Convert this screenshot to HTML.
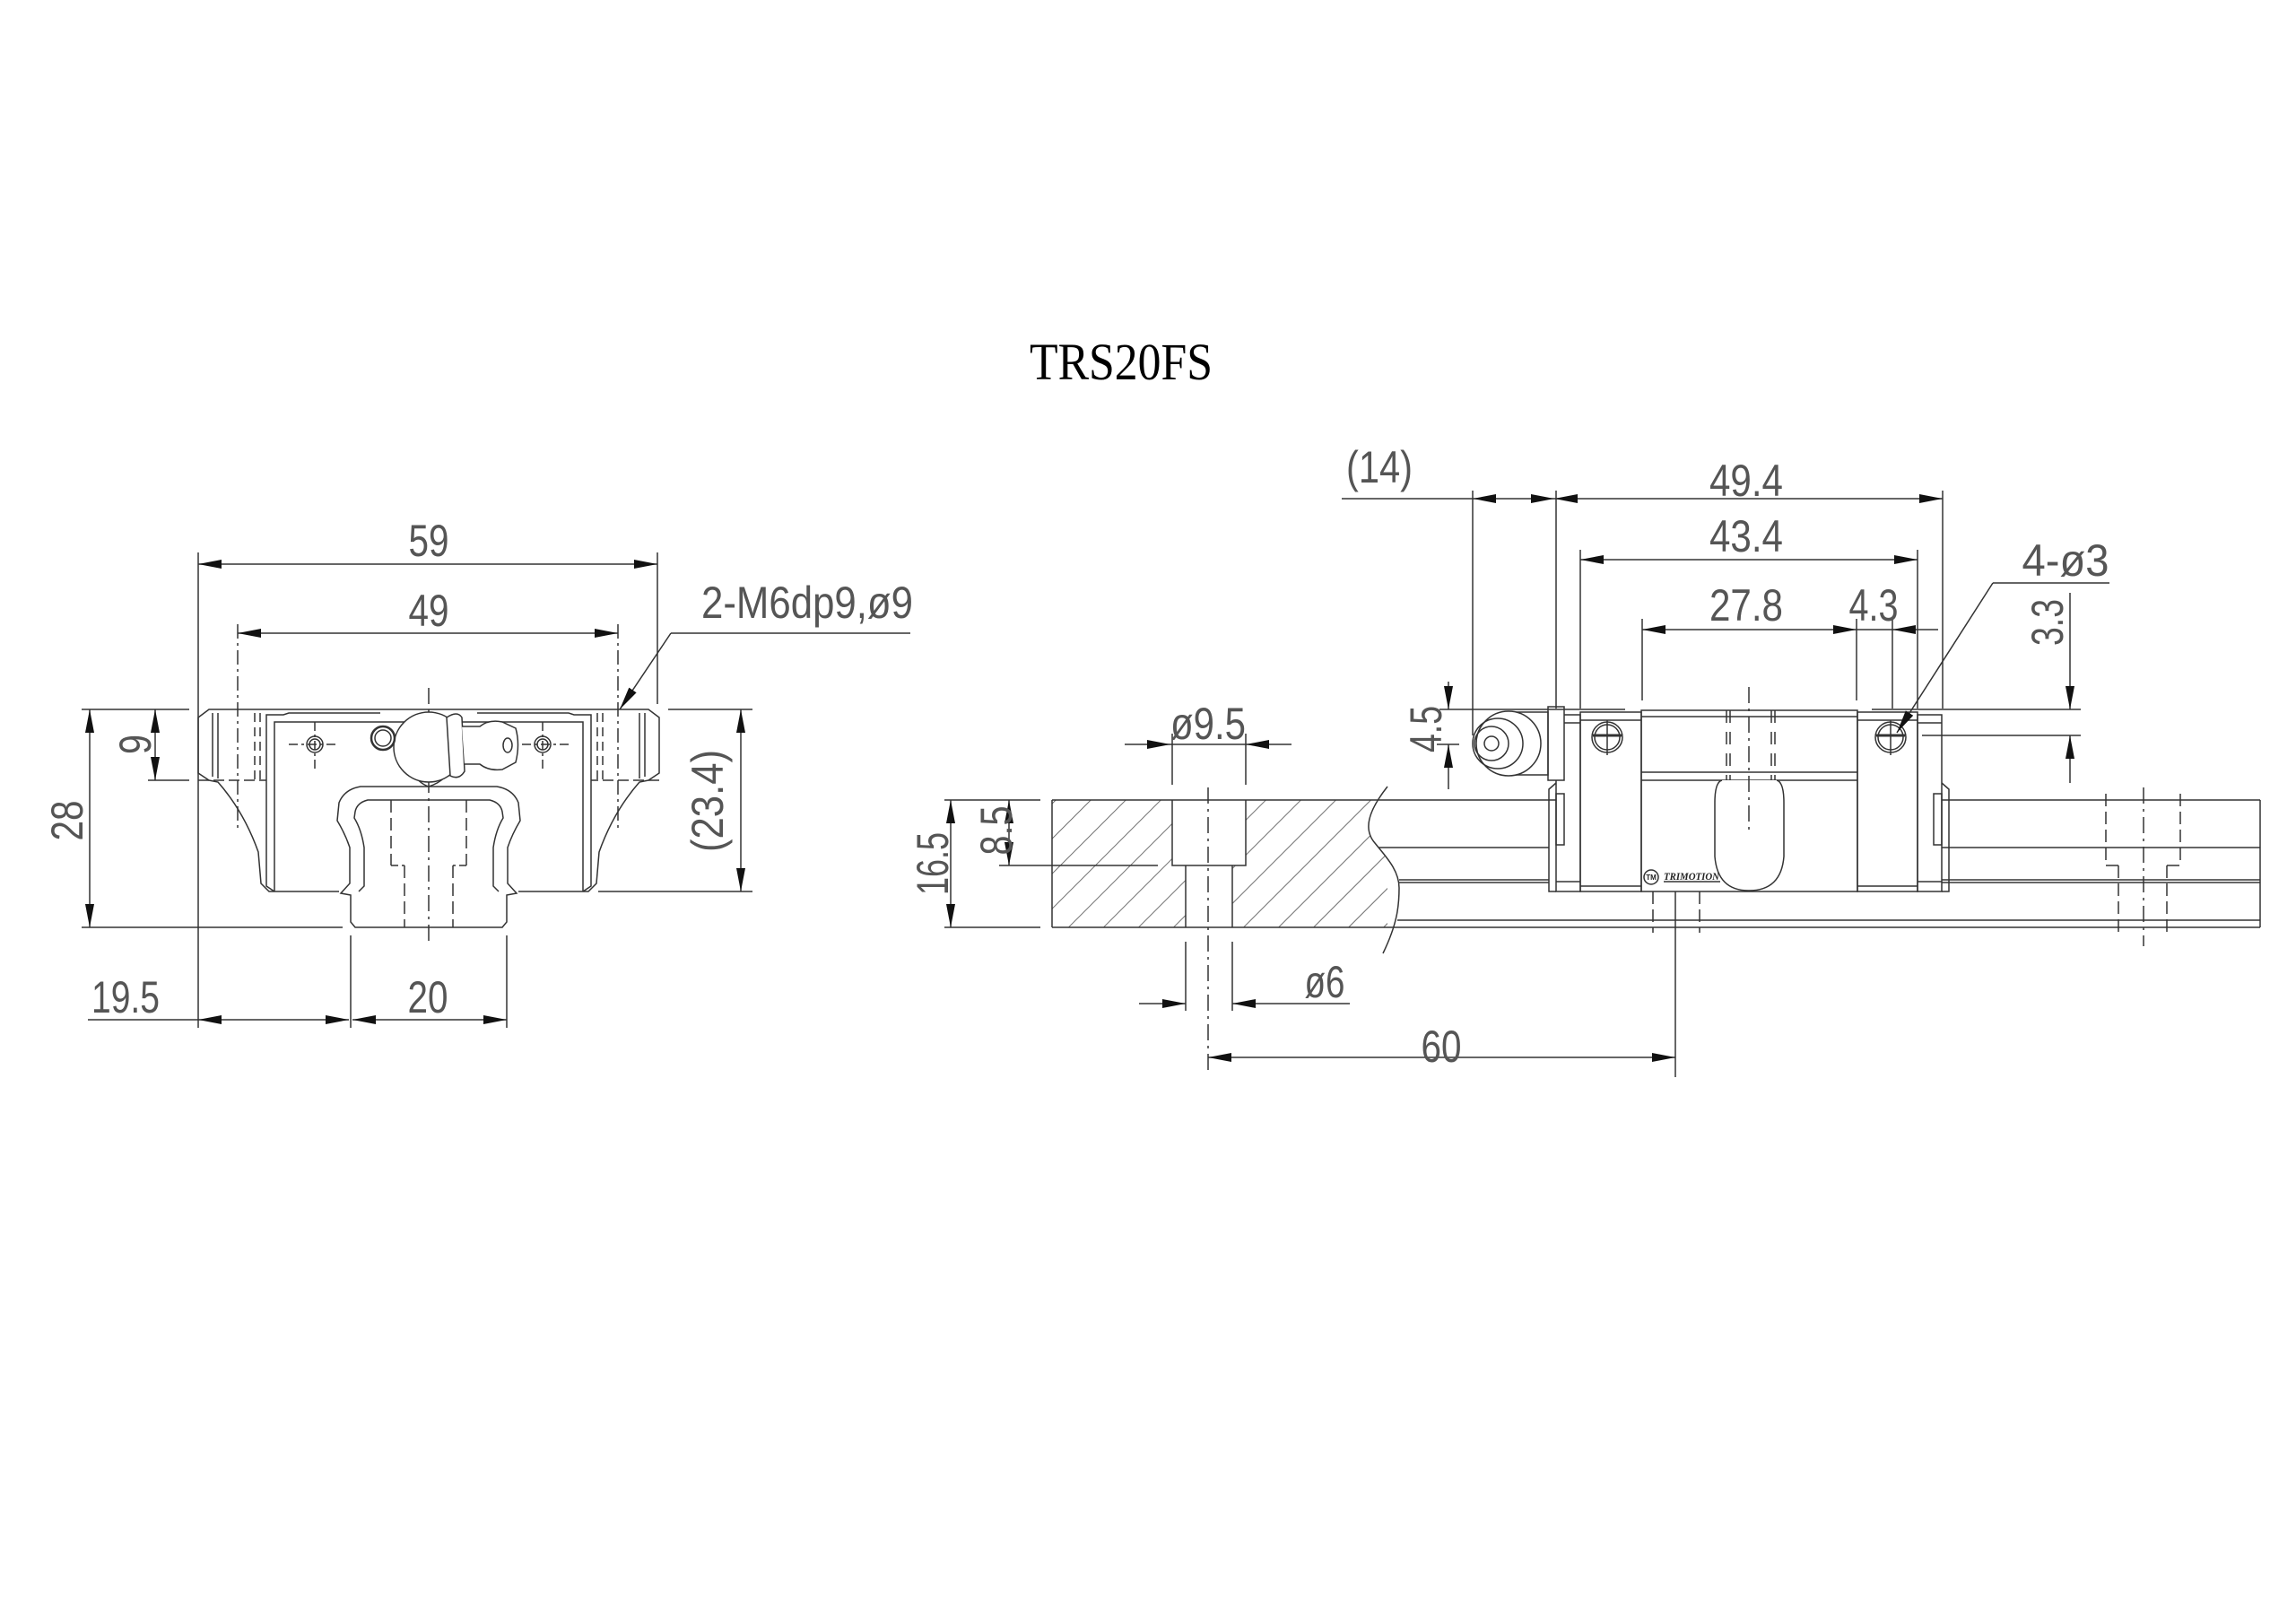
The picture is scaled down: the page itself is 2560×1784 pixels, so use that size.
<!DOCTYPE html>
<html><head><meta charset="utf-8"><style>
html,body{margin:0;padding:0;background:#fff}
svg{display:block}
text{font-family:"Liberation Sans",sans-serif;fill:#555}
</style></head><body>
<svg width="2560" height="1784" viewBox="0 0 2560 1784" xmlns="http://www.w3.org/2000/svg">
<defs>
<marker id="ar" viewBox="0 -5 26 10" refX="26" refY="0" markerWidth="26" markerHeight="10" markerUnits="userSpaceOnUse" orient="auto-start-reverse"><path d="M0,-5L26,0L0,5z" fill="#111"/></marker>
<pattern id="hat" width="27.6" height="27.6" patternUnits="userSpaceOnUse" patternTransform="rotate(45)"><line x1="0" y1="0" x2="0" y2="27.6" stroke="#333" stroke-width="1.4"/></pattern>
<clipPath id="hc"><path d="M1173,892 L1547,877 C1525,905 1520,925 1533,940 C1545,955 1560,970 1560,990 C1560,1010 1558,1025 1552,1034 L1173,1034 Z"/></clipPath>
</defs>

<text x="1250" y="423" font-family="Liberation Serif" style="font-family:'Liberation Serif',serif;fill:#000" font-size="58" textLength="204" lengthAdjust="spacingAndGlyphs" text-anchor="middle">TRS20FS</text>

<g stroke="#333" stroke-width="1.5" fill="none">
<!-- ===== LEFT VIEW ===== -->
<!-- dimension lines -->
<line x1="221" y1="629" x2="733" y2="629" marker-start="url(#ar)" marker-end="url(#ar)"/>
<line x1="221" y1="616" x2="221" y2="1146"/>
<line x1="733" y1="616" x2="733" y2="785"/>
<line x1="265" y1="706" x2="689" y2="706" marker-start="url(#ar)" marker-end="url(#ar)"/>
<line x1="265" y1="696" x2="265" y2="926" stroke-dasharray="16,5,3,5"/>
<line x1="689" y1="696" x2="689" y2="926" stroke-dasharray="16,5,3,5"/>
<!-- leader -->
<line x1="1015" y1="706" x2="748" y2="706"/>
<line x1="748" y1="706" x2="691" y2="791" marker-end="url(#ar)"/>
<!-- 28 -->
<line x1="100" y1="791" x2="100" y2="1034" marker-start="url(#ar)" marker-end="url(#ar)"/>
<line x1="91" y1="791" x2="211" y2="791"/>
<line x1="91" y1="1034" x2="382" y2="1034"/>
<!-- 9 -->
<line x1="173" y1="791" x2="173" y2="870" marker-start="url(#ar)" marker-end="url(#ar)"/>
<line x1="165" y1="870" x2="211" y2="870"/>
<!-- 23.4 -->
<line x1="826" y1="791" x2="826" y2="994" marker-start="url(#ar)" marker-end="url(#ar)"/>
<line x1="745" y1="791" x2="839" y2="791"/>
<line x1="667" y1="994" x2="839" y2="994"/>
<!-- 19.5 / 20 -->
<line x1="98" y1="1137" x2="221" y2="1137"/>
<line x1="221" y1="1137" x2="389" y2="1137" marker-start="url(#ar)" marker-end="url(#ar)"/>
<line x1="393" y1="1137" x2="565" y2="1137" marker-start="url(#ar)" marker-end="url(#ar)"/>
<line x1="391" y1="1043" x2="391" y2="1146"/>
<line x1="565" y1="1043" x2="565" y2="1146"/>

<!-- block left half + mirror -->
<g id="half">
<path d="M478,791 L233,791 L221,800 L221,862 L233,870 L243,872 Q272,905 288,950 L291,985 L300,994 L378,994"/>
<path d="M424,795 L322,795 L316,797 L297,797 L297,988 L306,994"/>
<path d="M478,805 L306,805 L306,994"/>
<line x1="237" y1="795" x2="237" y2="866"/>
<line x1="243" y1="795" x2="243" y2="868"/>
<line x1="284" y1="795" x2="284" y2="870" stroke-dasharray="10,6"/>
<line x1="290" y1="795" x2="290" y2="870" stroke-dasharray="10,6"/>
<line x1="221" y1="870" x2="297" y2="870" stroke-dasharray="12,5"/>
<!-- rail -->
<path d="M478,877 L402,877 Q384,880 378,895 L376,915 Q385,930 390,945 L390,985 L380,996 L391,998 L391,1028 L396,1034 L478,1034"/>
<path d="M478,892 L410,892 Q398,895 396,905 L395,912 Q403,925 406,945 L406,988 L400,994"/>
<line x1="436" y1="892" x2="436" y2="965" stroke-dasharray="14,6"/>
<line x1="436" y1="965" x2="451" y2="965" stroke-dasharray="8,4"/>
<line x1="451" y1="965" x2="451" y2="1034" stroke-dasharray="14,6"/>
<!-- hole -->
<circle cx="351" cy="830" r="9"/>
<circle cx="351" cy="830" r="6"/>
<line x1="322" y1="830" x2="378" y2="830" stroke-dasharray="10,4,3,4"/>
<line x1="351" y1="805" x2="351" y2="858" stroke-dasharray="10,4,3,4"/>
</g>
<use href="#half" transform="translate(956,0) scale(-1,1)"/>
<line x1="478" y1="767" x2="478" y2="1051" stroke-dasharray="18,6,3,6"/>
<!-- grease nipple left view -->
<path d="M445,818 Q455,870 478,877 Q500,870 505,850" />
<circle cx="478" cy="833" r="39" fill="#fff"/>
<circle cx="427" cy="823" r="13" stroke-width="2.5"/>
<circle cx="427" cy="823" r="9"/>
<path d="M498,800 Q510,792 515,800 L518,860 Q512,870 502,865 Z" fill="#fff"/>
<path d="M515,810 L535,810 Q545,802 560,805 L575,812 Q580,830 575,850 L560,858 Q545,860 535,852 L518,852" fill="#fff"/>
<ellipse cx="566" cy="831" rx="5" ry="8"/>

<!-- ===== RIGHT VIEW ===== -->
<!-- rail -->
<rect x="1173" y="892" width="374" height="142" fill="url(#hat)" stroke="none" clip-path="url(#hc)"/>
<rect x="1307" y="890" width="82" height="75" fill="#fff" stroke="none"/>
<rect x="1322" y="964" width="52" height="72" fill="#fff" stroke="none"/>
<line x1="1173" y1="892" x2="1173" y2="1034"/>
<line x1="1173" y1="892" x2="1735" y2="892"/>
<line x1="2165" y1="892" x2="2520" y2="892"/>
<line x1="1173" y1="1034" x2="2520" y2="1034"/>
<line x1="2520" y1="892" x2="2520" y2="1034"/>
<line x1="1537" y1="945" x2="1727" y2="945"/>
<line x1="2165" y1="945" x2="2520" y2="945"/>
<line x1="1560" y1="981" x2="1727" y2="981"/>
<line x1="1560" y1="984" x2="1727" y2="984"/>
<line x1="2165" y1="981" x2="2520" y2="981"/>
<line x1="2165" y1="984" x2="2520" y2="984"/>
<line x1="1558" y1="1026" x2="2520" y2="1026"/>
<path d="M1547,877 C1525,905 1520,925 1533,940 C1545,955 1560,970 1560,990 C1560,1010 1558,1030 1542,1063"/>
<!-- hole in section -->
<path d="M1307,892 L1307,965 L1389,965 L1389,892"/>
<line x1="1322" y1="965" x2="1322" y2="1034"/>
<line x1="1374" y1="965" x2="1374" y2="1034"/>
<line x1="1347" y1="878" x2="1347" y2="1196" stroke-dasharray="18,6,3,6"/>
<!-- hidden hole right -->
<g stroke-dasharray="14,6">
<line x1="2348" y1="885" x2="2348" y2="965"/>
<line x1="2431" y1="885" x2="2431" y2="965"/>
<line x1="2362" y1="965" x2="2362" y2="1045"/>
<line x1="2416" y1="965" x2="2416" y2="1045"/>
<line x1="2348" y1="965" x2="2362" y2="965"/>
<line x1="2416" y1="965" x2="2431" y2="965"/>
<line x1="1843" y1="994" x2="1843" y2="1040"/>
<line x1="1895" y1="994" x2="1895" y2="1040"/>
</g>
<line x1="2390" y1="878" x2="2390" y2="1055" stroke-dasharray="18,6,3,6"/>

<!-- block -->
<rect x="1830" y="792" width="241" height="202" fill="#fff"/>
<line x1="1830" y1="799" x2="2071" y2="799"/>
<line x1="1830" y1="861" x2="2071" y2="861"/>
<line x1="1830" y1="870" x2="2071" y2="870"/>
<rect x="1762" y="794" width="68" height="200"/>
<rect x="2071" y="794" width="67" height="200"/>
<line x1="1762" y1="803" x2="1830" y2="803"/>
<line x1="2071" y1="803" x2="2138" y2="803"/>
<line x1="1762" y1="988" x2="1830" y2="988"/>
<line x1="2071" y1="988" x2="2138" y2="988"/>
<rect x="1735" y="797" width="27" height="197"/>
<rect x="2138" y="797" width="27" height="197"/>
<line x1="1735" y1="806" x2="1762" y2="806"/>
<line x1="2138" y1="806" x2="2165" y2="806"/>
<line x1="1735" y1="983" x2="1762" y2="983"/>
<line x1="2138" y1="983" x2="2165" y2="983"/>
<path d="M1735,873 L1727,880 L1727,994 L1735,994"/>
<path d="M2165,873 L2173,880 L2173,994 L2165,994"/>
<rect x="1735" y="885" width="9" height="57"/>
<rect x="2156" y="885" width="9" height="57"/>
<rect x="1726" y="788" width="18" height="82" fill="#fff"/>
<line x1="1925" y1="792" x2="1925" y2="870" stroke-dasharray="14,10"/>
<line x1="1929" y1="792" x2="1929" y2="870" stroke-dasharray="14,10"/>
<line x1="1975" y1="792" x2="1975" y2="870" stroke-dasharray="14,10"/>
<line x1="1979" y1="792" x2="1979" y2="870" stroke-dasharray="14,10"/>
<path d="M1920,870 Q1912,872 1912,895 L1912,955 Q1915,993 1950,993 Q1986,993 1989,955 L1989,895 Q1989,872 1981,870" fill="#fff"/>
<line x1="1950" y1="766" x2="1950" y2="925" stroke-dasharray="18,6,3,6"/>
<!-- nipple -->
<path d="M1680,794 L1726,794 L1726,864 L1680,864"/>
<circle cx="1682" cy="829" r="36" fill="#fff"/>
<circle cx="1670" cy="829" r="28"/>
<circle cx="1663" cy="829" r="19"/>
<circle cx="1663" cy="829" r="8"/>
<!-- screws -->
<g id="scr">
<circle cx="1792" cy="822" r="17" fill="#fff"/>
<circle cx="1792" cy="822" r="14"/>
<line x1="1776" y1="820" x2="1808" y2="820" stroke-width="3"/>
<line x1="1792" y1="803" x2="1792" y2="842"/>
</g>
<use href="#scr" transform="translate(316,0)"/>
<circle cx="1841" cy="978" r="8"/>
<line x1="1855" y1="983" x2="1918" y2="983"/>
<line x1="1868" y1="994" x2="1868" y2="1201"/>

<!-- right view dims -->
<line x1="1496" y1="556" x2="1642" y2="556"/>
<line x1="1642" y1="556" x2="1733" y2="556" marker-start="url(#ar)" marker-end="url(#ar)"/>
<line x1="1733" y1="556" x2="2166" y2="556" marker-start="url(#ar)" marker-end="url(#ar)"/>
<line x1="1642" y1="547" x2="1642" y2="820"/>
<line x1="1735" y1="547" x2="1735" y2="790"/>
<line x1="2166" y1="547" x2="2166" y2="790"/>
<line x1="1762" y1="613" x2="1762" y2="790"/>
<line x1="2138" y1="613" x2="2138" y2="790"/>
<line x1="1762" y1="624" x2="2138" y2="624" marker-start="url(#ar)" marker-end="url(#ar)"/>
<line x1="1831" y1="690" x2="1831" y2="781"/>
<line x1="2070" y1="690" x2="2070" y2="781"/>
<line x1="2110" y1="690" x2="2110" y2="790"/>
<line x1="1831" y1="702" x2="2070" y2="702" marker-start="url(#ar)" marker-end="url(#ar)"/>
<line x1="2070" y1="702" x2="2110" y2="702"/>
<line x1="2161" y1="702" x2="2110" y2="702" marker-end="url(#ar)"/>
<!-- 4-ø3 leader -->
<line x1="2352" y1="650" x2="2222" y2="650"/>
<line x1="2222" y1="650" x2="2115" y2="817" marker-end="url(#ar)"/>
<!-- 3.3 -->
<line x1="2308" y1="661" x2="2308" y2="791" marker-end="url(#ar)"/>
<line x1="2308" y1="873" x2="2308" y2="820" marker-end="url(#ar)"/>
<line x1="2087" y1="791" x2="2320" y2="791"/>
<line x1="1605" y1="791" x2="1812" y2="791"/>
<line x1="2143" y1="820" x2="2320" y2="820"/>
<!-- 4.5 -->
<line x1="1615" y1="760" x2="1615" y2="791" marker-end="url(#ar)"/>
<line x1="1615" y1="880" x2="1615" y2="830" marker-end="url(#ar)"/>
<line x1="1602" y1="830" x2="1627" y2="830"/>
<!-- ø9.5 -->
<line x1="1254" y1="830" x2="1305" y2="830" marker-end="url(#ar)"/>
<line x1="1440" y1="830" x2="1389" y2="830" marker-end="url(#ar)"/>
<line x1="1305" y1="830" x2="1389" y2="830"/>
<line x1="1307" y1="818" x2="1307" y2="875"/>
<line x1="1389" y1="818" x2="1389" y2="875"/>
<!-- 16.5 / 8.5 -->
<line x1="1060" y1="892" x2="1060" y2="1034" marker-start="url(#ar)" marker-end="url(#ar)"/>
<line x1="1053" y1="892" x2="1160" y2="892"/>
<line x1="1053" y1="1034" x2="1160" y2="1034"/>
<line x1="1125" y1="892" x2="1125" y2="965" marker-start="url(#ar)" marker-end="url(#ar)"/>
<line x1="1114" y1="965" x2="1291" y2="965"/>
<!-- ø6 -->
<line x1="1270" y1="1119" x2="1322" y2="1119" marker-end="url(#ar)"/>
<line x1="1505" y1="1119" x2="1374" y2="1119" marker-end="url(#ar)"/>
<line x1="1322" y1="1050" x2="1322" y2="1127"/>
<line x1="1374" y1="1050" x2="1374" y2="1127"/>
<!-- 60 -->
<line x1="1347" y1="1179" x2="1868" y2="1179" marker-start="url(#ar)" marker-end="url(#ar)"/>
</g>

<g font-size="50" text-anchor="middle">
<text x="478" y="620" textLength="45" lengthAdjust="spacingAndGlyphs">59</text>
<text x="478" y="698" textLength="45" lengthAdjust="spacingAndGlyphs">49</text>
<text x="900" y="689" textLength="236" lengthAdjust="spacingAndGlyphs">2-M6dp9,ø9</text>
<text x="140" y="1129" textLength="76" lengthAdjust="spacingAndGlyphs">19.5</text>
<text x="477" y="1129" textLength="45" lengthAdjust="spacingAndGlyphs">20</text>
<text transform="translate(92,915) rotate(-90)" textLength="45" lengthAdjust="spacingAndGlyphs">28</text>
<text transform="translate(168,830) rotate(-90)" textLength="22" lengthAdjust="spacingAndGlyphs">9</text>
<text transform="translate(806,893) rotate(-90)" textLength="114" lengthAdjust="spacingAndGlyphs">(23.4)</text>
<text x="1538" y="538" textLength="74" lengthAdjust="spacingAndGlyphs">(14)</text>
<text x="1947" y="553" textLength="82" lengthAdjust="spacingAndGlyphs">49.4</text>
<text x="1947" y="615" textLength="82" lengthAdjust="spacingAndGlyphs">43.4</text>
<text x="1947" y="692" textLength="82" lengthAdjust="spacingAndGlyphs">27.8</text>
<text x="2089" y="692" textLength="55" lengthAdjust="spacingAndGlyphs">4.3</text>
<text x="2303" y="642" textLength="97" lengthAdjust="spacingAndGlyphs">4-ø3</text>
<text transform="translate(2300,694) rotate(-90)" textLength="52" lengthAdjust="spacingAndGlyphs">3.3</text>
<text transform="translate(1607,813) rotate(-90)" textLength="52" lengthAdjust="spacingAndGlyphs">4.5</text>
<text x="1347" y="824" textLength="84" lengthAdjust="spacingAndGlyphs">ø9.5</text>
<text transform="translate(1057,963) rotate(-90)" textLength="70" lengthAdjust="spacingAndGlyphs">16.5</text>
<text transform="translate(1128,926) rotate(-90)" textLength="55" lengthAdjust="spacingAndGlyphs">8.5</text>
<text x="1477" y="1112" textLength="45" lengthAdjust="spacingAndGlyphs">ø6</text>
<text x="1607" y="1184" textLength="45" lengthAdjust="spacingAndGlyphs">60</text>
</g>
<text x="1841" y="981" font-size="8" text-anchor="middle" style="fill:#222;font-weight:bold">TM</text>
<text x="1886" y="981" font-size="12" text-anchor="middle" textLength="62" lengthAdjust="spacingAndGlyphs" style="fill:#222;font-weight:bold;font-style:italic;font-family:'Liberation Serif',serif">TRIMOTION</text>
</svg>
</body></html>
